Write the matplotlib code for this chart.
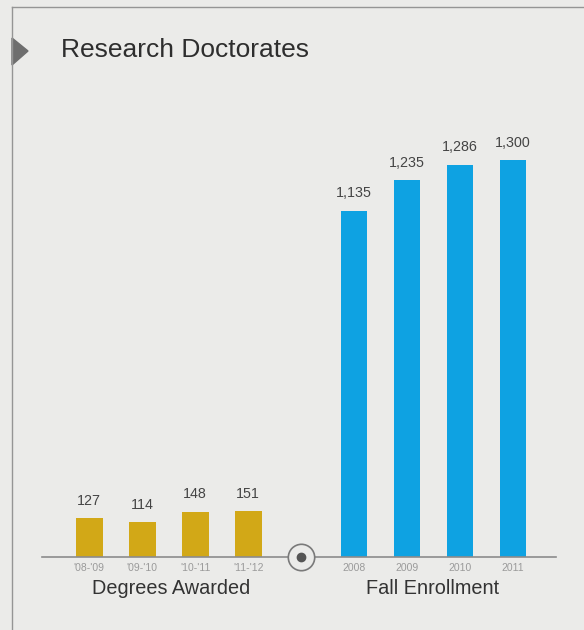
import matplotlib.pyplot as plt
from matplotlib.patches import Polygon
from matplotlib.lines import Line2D

plt.rcParams["font.family"] = ["Liberation Sans", "DejaVu Sans"]

degree_years = ["'08-'09", "'09-'10", "'10-'11", "'11-'12"]
degrees = [127, 114, 148, 151]
enroll_years = ["2008", "2009", "2010", "2011"]
enrollment = [1135, 1235, 1286, 1300]

gold = "#d2a817"
blue = "#0ea2e2"
bg = "#ebebe9"

fig = plt.figure(figsize=(5.84, 6.3), dpi=100, facecolor=bg)

# frame lines and the grey pointer next to the title
fig.add_artist(Line2D([12 / 584, 1], [623 / 630, 623 / 630], color="#959595", lw=1))
fig.add_artist(Line2D([12 / 584, 12 / 584], [0, 623 / 630], color="#959595", lw=1))
fig.add_artist(Polygon([[12 / 584, 592 / 630], [28 / 584, 579 / 630], [12 / 584, 565 / 630]],
                       closed=True, color="#6e6e6e", transform=fig.transFigure))
fig.text(61 / 584, 580 / 630, "Research Doctorates", fontsize=19, color="#2e2e2e", va="center")

# axes placed so that 1 px ~ 3.28 units
ax = fig.add_axes([42 / 584, 73 / 630, 514 / 584, 427 / 630])
ax.set_facecolor("none")
ax.set_xlim(-0.89, 8.81)
ax.set_ylim(0, 1400)

x_deg = [0, 1, 2, 3]
x_enr = [5, 6, 7, 8]
ax.bar(x_deg, degrees, width=0.51, color=gold)
ax.bar(x_enr, enrollment, width=0.5, color=blue)

for x, v in zip(x_deg, degrees):
    ax.text(x, v + 34, f"{v:,}", ha="center", va="bottom", fontsize=10.3, color="#444444")
for x, v in zip(x_enr, enrollment):
    ax.text(x, v + 34, f"{v:,}", ha="center", va="bottom", fontsize=10.3, color="#444444")

for s in ["top", "right", "left"]:
    ax.spines[s].set_visible(False)
ax.spines["bottom"].set_color("#8c8c8c")
ax.spines["bottom"].set_linewidth(1.2)
ax.set_yticks([])
ax.set_xticks(x_deg + x_enr)
ax.set_xticklabels(degree_years + enroll_years, fontsize=7.5, color="#9a9a9a")
ax.tick_params(axis="x", length=0, pad=4)

# round marker between the two groups
ax.plot(4, 0, marker="o", markersize=19, markerfacecolor=bg, markeredgecolor="#7a7a7a",
        markeredgewidth=1.2, clip_on=False, zorder=5)
ax.plot(4, 0, marker="o", markersize=6, color="#555555", clip_on=False, zorder=6)

fig.text(171 / 584, 41 / 630, "Degrees Awarded", fontsize=14.3, color="#333333", ha="center", va="center")
fig.text(433 / 584, 41 / 630, "Fall Enrollment", fontsize=14.3, color="#333333", ha="center", va="center")

fig.savefig("out.png", dpi=100, facecolor=bg)
